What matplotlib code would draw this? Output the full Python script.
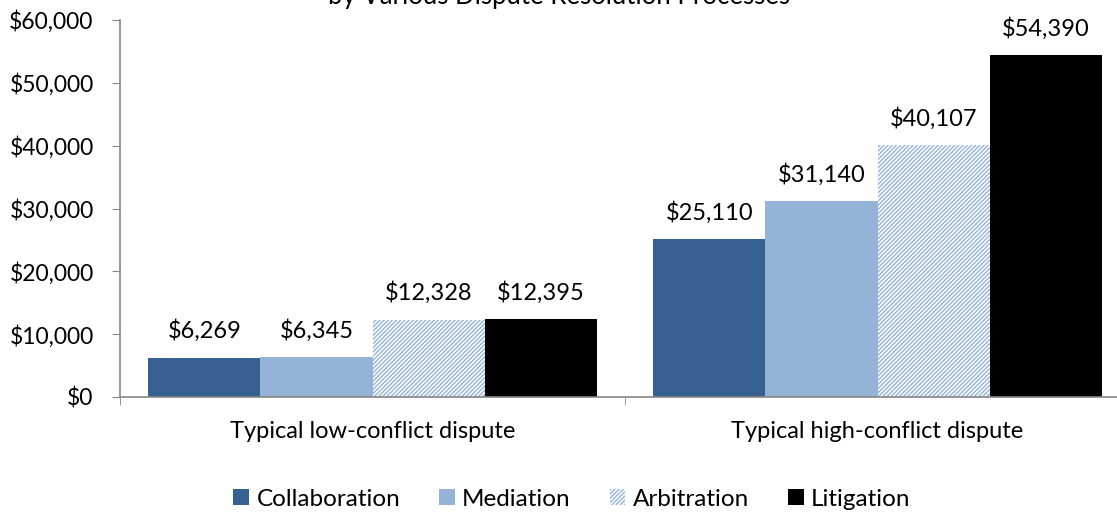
import numpy as np
import matplotlib.pyplot as plt
from matplotlib.ticker import FuncFormatter, FixedLocator, NullFormatter

plt.rcParams['font.family'] = ['Lato', 'DejaVu Sans']
plt.rcParams['hatch.linewidth'] = 1.0

categories = ["Typical low-conflict dispute", "Typical high-conflict dispute"]
series = ["Collaboration", "Mediation", "Arbitration", "Litigation"]
collaboration = [6269, 25110]
mediation = [6345, 31140]
arbitration = [12328, 40107]
litigation = [12395, 54390]
values = [collaboration, mediation, arbitration, litigation]

fig = plt.figure(figsize=(11.17, 5.12), dpi=100)
ax = fig.add_axes([120 / 1117, 1 - 397 / 512, 1010 / 1117, 377 / 512])

gray = '#868686'
styles = [
    dict(color='#376092'),
    dict(color='#95B3D7'),
    dict(facecolor='white', edgecolor='#95B3D7', hatch='////////', linewidth=0),
    dict(color='black'),
]

x = np.arange(len(categories))
width = 0.222
for i, (name, vals, st) in enumerate(zip(series, values, styles)):
    pos = x + (i - 1.5) * width
    bars = ax.bar(pos, vals, width, label=name, **st)
    for b, v in zip(bars, vals):
        ax.annotate(f"${v:,}", (b.get_x() + b.get_width() / 2, v),
                    xytext=(0, 11), textcoords='offset points',
                    ha='center', va='bottom', fontsize=17)

ax.set_xlim(-0.5, 1.5)
ax.set_ylim(0, 60000)
ax.set_yticks(np.arange(0, 60001, 10000))
ax.yaxis.set_major_formatter(FuncFormatter(lambda v, p: f"${int(v):,}"))

ax.set_xticks(x)
ax.set_xticklabels(categories, fontsize=17)
ax.tick_params(axis='x', which='major', length=0, pad=17)
ax.xaxis.set_minor_locator(FixedLocator([-0.5, 0.5, 1.5]))
ax.xaxis.set_minor_formatter(NullFormatter())
ax.tick_params(axis='x', which='minor', length=6, color=gray, direction='out')
ax.tick_params(axis='y', length=6, color=gray, labelsize=16.5, pad=13)

for s in ['top', 'right']:
    ax.spines[s].set_visible(False)
for s in ['left', 'bottom']:
    ax.spines[s].set_color(gray)
    ax.spines[s].set_linewidth(1.2)

# the chart title is cut off at the top edge in the reference
fig.text(0.5, 1 - 4 / 512, "by Various Dispute Resolution Processes",
         ha='center', va='baseline', fontsize=18.5)

handles, labels = ax.get_legend_handles_labels()
fig.legend(handles, labels, loc='center', bbox_to_anchor=(0.512, 1 - 499 / 512), ncol=4,
           frameon=False, fontsize=17.5, handlelength=0.65, handleheight=0.65,
           handletextpad=0.3, columnspacing=1.6)

fig.savefig('out.png', dpi=100)
